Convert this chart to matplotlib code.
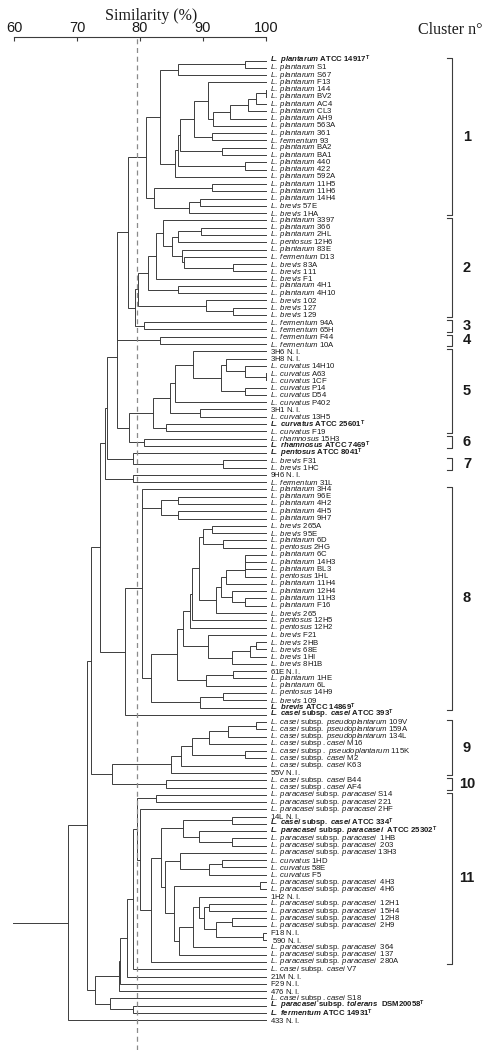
"""Dendrogram of Lactobacillus isolates (similarity %), with cluster brackets."""

import matplotlib
matplotlib.use("Agg")
import matplotlib.pyplot as plt
from matplotlib.transforms import blended_transform_factory

plt.rcParams["mathtext.fontset"] = "custom"
plt.rcParams["mathtext.rm"] = "Liberation Sans"
plt.rcParams["mathtext.it"] = "Liberation Sans:italic"
plt.rcParams["mathtext.bf"] = "Liberation Sans:bold"
plt.rcParams["mathtext.bfit"] = "Liberation Sans:italic:bold"

# leaf labels, top to bottom; *...* marks italic text
labels = [
    "*L. plantarum* ATCC 14917", "*L. plantarum* S1", "*L. plantarum* S67", "*L. plantarum* F13",
    "*L. plantarum* 144", "*L. plantarum* BV2", "*L. plantarum* AC4", "*L. plantarum* CL3",
    "*L. plantarum* AH9", "*L. plantarum* 563A", "*L. plantarum* 361", "*L. fermentum* 93",
    "*L. plantarum* BA2", "*L. plantarum* BA1", "*L. plantarum* 440", "*L. plantarum* 422",
    "*L. plantarum* 592A", "*L. plantarum* 11H5", "*L. plantarum* 11H6", "*L. plantarum* 14H4",
    "*L. brevis* 57E", "*L. brevis* 1HA",
    "*L. plantarum* 3397", "*L. plantarum* 366", "*L. plantarum* 2HL", "*L. pentosus* 12H6",
    "*L. plantarum* 83E", "*L. fermentum* D13", "*L. brevis* 83A", "*L. brevis* 111",
    "*L. brevis* F1", "*L. plantarum* 4H1", "*L. plantarum* 4H10", "*L. brevis* 102",
    "*L. brevis* 127", "*L. brevis* 129",
    "*L. fermentum* 94A", "*L. fermentum* 65H", "*L. fermentum* F44", "*L. fermentum* 10A",
    "3H6 N.I.", "3H8 N.I.", "*L. curvatus* 14H10", "*L. curvatus* A63", "*L. curvatus* 1CF",
    "*L. curvatus* P14", "*L. curvatus* D54", "*L. curvatus* P402", "3H1 N.I.",
    "*L. curvatus* 13H5", "*L. curvatus* ATCC 25601", "*L. curvatus* F19",
    "*L. rhamnosus* 15H3", "*L. rhamnosus* ATCC 7469", "*L. pentosus* ATCC 8041",
    "*L. brevis* F31", "*L. brevis* 1HC", "9H6 N.I.", "*L. fermentum* 31L",
    "*L. plantarum* 3H4", "*L. plantarum* 96E", "*L. plantarum* 4H2", "*L. plantarum* 4H5",
    "*L. plantarum* 9H7", "*L. brevis* 265A", "*L. brevis* 95E", "*L. plantarum* 6D",
    "*L. pentosus* 2HG", "*L. plantarum* 6C", "*L. plantarum* 14H3", "*L. plantarum* BL3",
    "*L. pentosus* 1HL", "*L. plantarum* 11H4", "*L. plantarum* 12H4", "*L. plantarum* 11H3",
    "*L. plantarum* F16", "*L. brevis* 265", "*L. pentosus* 12H5", "*L. pentosus* 12H2",
    "*L. brevis* F21", "*L. brevis* 2HB", "*L. brevis* 68E", "*L. brevis* 1HI",
    "*L. brevis* 8H1B", "61E N.I.", "*L. plantarum* 1HE", "*L. plantarum* 6L",
    "*L. pentosus* 14H9", "*L. brevis* 109", "*L. brevis* ATCC 14869",
    "*L. casei* subsp. *casei* ATCC 393",
    "*L. casei* subsp. *pseudoplantarum* 109V", "*L. casei* subsp. *pseudoplantarum* 159A",
    "*L. casei* subsp. *pseudoplantarum* 134L", "*L. casei* subsp .*casei* M16",
    "*L. casei* subsp . *pseudoplantarum* 115K", "*L. casei* subsp. *casei* M2",
    "*L. casei* subsp. *casei* K63", "55V N.I.",
    "*L. casei* subsp. *casei* B44", "*L. casei* subsp .*casei* AF4",
    "*L. paracasei* subsp. *paracasei* S14", "*L. paracasei* subsp. *paracasei* 221",
    "*L. paracasei* subsp. *paracasei* 2HF", "14L N.I.",
    "*L. casei* subsp. *casei* ATCC 334", "*L. paracasei* subsp. *paracasei*  ATCC 25302",
    "*L. paracasei* subsp. *paracasei*  1HB", "*L. paracasei* subsp. *paracasei*  203",
    "*L. paracasei* subsp. *paracasei* 13H3", "*L. curvatus* 1HD", "*L. curvatus* 58E",
    "*L. curvatus* F5", "*L. paracasei* subsp. *paracasei*  4H3",
    "*L. paracasei* subsp. *paracasei*  4H6", "1H2 N.I.",
    "*L. paracasei* subsp. *paracasei*  12H1", "*L. paracasei* subsp. *paracasei*  15H4",
    "*L. paracasei* subsp. *paracasei*  12H8", "*L. paracasei* subsp. *paracasei*  2H9",
    "F18 N.I.", " 590 N.I.", "*L. paracasei* subsp. *paracasei*  364",
    "*L. paracasei* subsp. *paracasei*  137", "*L. paracasei* subsp. *paracasei*  280A",
    "*L. casei* subsp. *casei* V7", "21M N.I.", "F29 N.I.", "476 N.I.",
    "*L. casei* subsp .*casei* S18", "*L. paracasei* subsp. *tolerans*  DSM20058",
    "*L. fermentum* ATCC 14931", "433 N.I.",
]
type_strains = [0, 50, 53, 54, 89, 90, 105, 106, 130, 131]

# merges: (node, child, child, similarity %); ints are leaves
merges_c1 = [
    ("a1", 0, 1, 96.7), ("a2", "a1", 2, 86.0), ("a3", 4, 5, 100.0),
    ("a4", "a3", 6, 98.4), ("a5", "a4", 7, 97.2), ("a6", "a5", 8, 94.3),
    ("a7", "a6", 9, 91.6), ("a8", 3, "a7", 90.8), ("a9", 10, 11, 91.4),
    ("a10", "a8", "a9", 88.5), ("a11", 12, 13, 93.0), ("a12", "a10", "a11", 86.3),
    ("a13", 14, 15, 96.7), ("a14", "a12", "a13", 86.0), ("a15", "a14", 16, 85.6),
    ("a16", "a2", "a15", 83.2), ("a17", 17, 18, 91.4), ("a18", 19, 20, 89.5),
    ("a19", "a18", 21, 87.8), ("a20", "a17", "a19", 82.2), ("c1", "a16", "a20", 81.0),
]
merges_c2 = [
    ("b1", 23, 24, 89.7), ("b2", "b1", 25, 86.1), ("b3", 28, 29, 94.8),
    ("b4", 27, "b3", 87.0), ("b5", 26, "b4", 86.7), ("b6", "b2", "b5", 85.0),
    ("b7", 22, "b6", 83.6), ("b8", "b7", 30, 82.5), ("b9", 31, 32, 86.0),
    ("b10", "b8", "b9", 81.2), ("b11", 34, 35, 94.8), ("b12", 33, "b11", 90.4),
    ("c2", "b10", "b12", 79.7),
]
merges_c3_c7 = [
    ("c3", 36, 37, 80.7), ("c4", 38, 39, 83.1),
    ("e2", 43, 44, 100.0), ("e3", 42, "e2", 96.7), ("e1", 41, "e3", 93.65),
    ("e4", 45, 46, 96.7), ("e5", "e1", "e4", 92.8), ("e6", 40, "e5", 88.4),
    ("e7", "e6", 47, 85.6), ("e8", 48, 49, 89.5), ("e9", "e7", "e8", 84.8),
    ("e10", 50, 51, 84.2), ("c5", "e9", "e10", 82.0),
    ("c6", 52, 53, 80.7),
    ("g1", 55, 56, 93.1), ("g2", 54, "g1", 78.9), ("g3", 57, 58, 78.9),
]
merges_c8 = [
    ("h1", 60, 61, 86.0), ("h2", 62, 63, 86.0), ("h3", "h1", "h2", 83.4),
    ("h4", 59, "h3", 80.3), ("h5", 64, 65, 91.4), ("h6", 66, 67, 93.1),
    ("h7", "h5", "h6", 90.0), ("h8a", 68, 69, 96.7), ("h8b", "h8a", 70, 96.7),
    ("h8", "h8b", 71, 96.7), ("h9", "h8", 72, 93.65), ("h10", 74, 75, 96.7),
    ("h11", 73, "h10", 94.65), ("h12", "h9", "h11", 92.8), ("h13", "h12", 76, 92.1),
    ("h14", "h7", "h13", 89.4), ("h15", "h14", 77, 88.2), ("h16", "h15", 78, 87.9),
    ("h17", 80, 81, 98.4), ("h18", "h17", 82, 97.4), ("h19", "h18", 83, 94.65),
    ("h20", 79, "h19", 90.8), ("h21", "h16", "h20", 86.8), ("h22", 84, 85, 94.8),
    ("h23", "h22", 86, 90.4), ("h24", "h21", "h23", 85.8), ("h25", 87, 88, 93.1),
    ("h26", "h25", 89, 89.5), ("h27", "h24", "h26", 81.7), ("c8", "h4", "h27", 80.3),
]
merges_c9_c10 = [
    ("i1", 91, 92, 98.4), ("i2", "i1", 93, 93.9), ("i3", "i2", 94, 90.95),
    ("i4", 95, 96, 96.7), ("i5", "i3", "i4", 88.2), ("i6", "i5", 97, 86.5),
    ("c9", "i6", 98, 84.9), ("c10", 99, 100, 84.1),
]
merges_c11 = [
    ("j1", 101, 102, 82.5), ("j2", 104, 105, 94.65), ("j3", 107, 108, 94.65),
    ("j4", 106, "j3", 89.4), ("j5", "j2", "j4", 86.8), ("j6", 110, 111, 93.0),
    ("j7", "j6", 112, 91.0), ("j8", 109, "j7", 86.3), ("j9", 113, 114, 99.0),
    ("k1", 118, 119, 94.65), ("k2", 120, 121, 99.5), ("k3", "k1", "k2", 92.1),
    ("k4", 116, 117, 91.0), ("k5", "k4", "k3", 90.2), ("k6", 115, "k5", 89.4),
    ("k7", "k6", 122, 88.4), ("k8", "k7", 123, 86.2), ("k9", "j9", "k8", 85.4),
    ("k10", "j8", "k9", 84.0), ("k11", "j5", "k10", 83.3), ("k12", "k11", 124, 81.7),
    ("k13", 103, "k12", 80.0), ("c11", "j1", "k13", 79.6),
]
merges_top = [
    ("n23", "c2", "c3", 79.2), ("n13", "c1", "n23", 78.1), ("n14", "n13", "c4", 76.4),
    ("n56", "c5", "c6", 78.3), ("n15", "n14", "n56", 76.3), ("n17", "n15", "g2", 74.7),
    ("n18", "n17", "g3", 74.5), ("n8", "c8", 90, 77.6), ("n300", "n18", "n8", 73.65),
    ("n910", "c9", "c10", 75.5), ("n275", "n300", "n910", 72.3),
    ("l1", "c11", 125, 78.9), ("l2", "l1", 126, 78.0), ("l3", "l2", 127, 76.9),
    ("l4", "l3", 128, 76.6), ("l6", 130, 131, 78.9), ("l7", 129, "l6", 75.2),
    ("l8", "l4", "l7", 72.9), ("n262", "n275", "l8", 71.6), ("root", "n262", 132, 68.6),
]

# cluster brackets: (name, first leaf, last leaf)
cluster_names = ["1", "2", "3", "4", "5", "6", "7", "8", "9", "10", "11"]
cluster_first = [0, 22, 36, 38, 40, 52, 55, 59, 91, 99, 101]
cluster_last = [21, 35, 37, 39, 51, 53, 56, 89, 98, 100, 124]

cutoff = 79.5

LINE = "#3c3c3c"
W, H = 492, 1058
X0, PX = 14, 6.3          # pixel of 60 %, pixels per %
Y0, DY = 60.5, 7.27       # pixel of first leaf, leaf spacing
TOP, BOT = 37, 1050


def to_math(text, bold):
    parts = text.split("*")
    out = []
    for k, part in enumerate(parts):
        if not part:
            continue
        part = part.replace(" ", r"\ ")
        if k % 2:
            out.append((r"\mathbfit{%s}" if bold else r"\mathit{%s}") % part)
        else:
            out.append((r"\mathbf{%s}" if bold else r"\mathrm{%s}") % part)
    if bold:
        out.append(r"^{\mathbf{T}}")
    return "$" + "".join(out) + "$"


fig = plt.figure(figsize=(W / 100, H / 100), dpi=100)
ax = fig.add_axes([X0 / W, (H - BOT) / H, 40 * PX / W, (BOT - TOP) / H])
ax.set_xlim(60, 100)
ax.set_ylim((BOT - Y0) / DY, (TOP - Y0) / DY)

pos = {i: (100.0, float(i)) for i in range(len(labels))}
for name, a, b, s in merges_c1 + merges_c2 + merges_c3_c7 + merges_c8 + merges_c9_c10 + merges_c11 + merges_top:
    (sa, ya), (sb, yb) = pos[a], pos[b]
    ax.plot([sa, s, s, sb], [ya, ya, yb, yb], color=LINE, lw=0.7, clip_on=False,
            solid_joinstyle="miter")
    pos[name] = (s, (ya + yb) / 2)
rs, ry = pos["root"]
ax.plot([rs, 59.8], [ry, ry], color=LINE, lw=0.7, clip_on=False)

ax.axvline(cutoff, color="#8a8a8a", lw=0.9, ls=(0, (4, 3)), ymin=0, ymax=1)

for i, lab in enumerate(labels):
    ax.text(100.6, i, to_math(lab, i in type_strains), fontsize=5.6,
            va="center", ha="left", color="#1a1a1a", clip_on=False)

# similarity axis on top
for side in ["bottom", "left", "right"]:
    ax.spines[side].set_visible(False)
ax.spines["top"].set_color(LINE)
ax.spines["top"].set_linewidth(0.8)
ax.xaxis.tick_top()
ax.set_xticks([60, 70, 80, 90, 100])
ax.tick_params(axis="x", direction="in", length=3, width=0.8, color=LINE,
               labelsize=10.5, pad=1.5, labelcolor="#1a1a1a")
for t in ax.get_xticklabels():
    t.set_family("Liberation Sans")
ax.set_yticks([])

fig.text(151 / W, 1 - 16 / H, "Similarity (%)", family="Liberation Serif", fontsize=11.5,
         ha="center", va="center", color="#1a1a1a")
fig.text(450 / W, 1 - 30 / H, "Cluster n\u00b0", family="Liberation Serif", fontsize=11.5,
         ha="center", va="center", color="#1a1a1a")

# cluster brackets
tr = blended_transform_factory(ax.transAxes, ax.transData)
bx = (452 - X0) / (40 * PX)
tx = (447 - X0) / (40 * PX)
lx = (467 - X0) / (40 * PX)
for name, first, last in zip(cluster_names, cluster_first, cluster_last):
    y1, y2 = first - 0.3, last + 0.3
    ax.plot([tx, bx, bx, tx], [y1, y1, y2, y2], color=LINE, lw=0.8, transform=tr,
            clip_on=False)
    ax.text(lx, (first + last) / 2, name, transform=tr, ha="center", va="center",
            family="Liberation Sans", fontweight="bold", fontsize=10.5, color="#1a1a1a")

fig.savefig("out.png", dpi=100, facecolor="white")
